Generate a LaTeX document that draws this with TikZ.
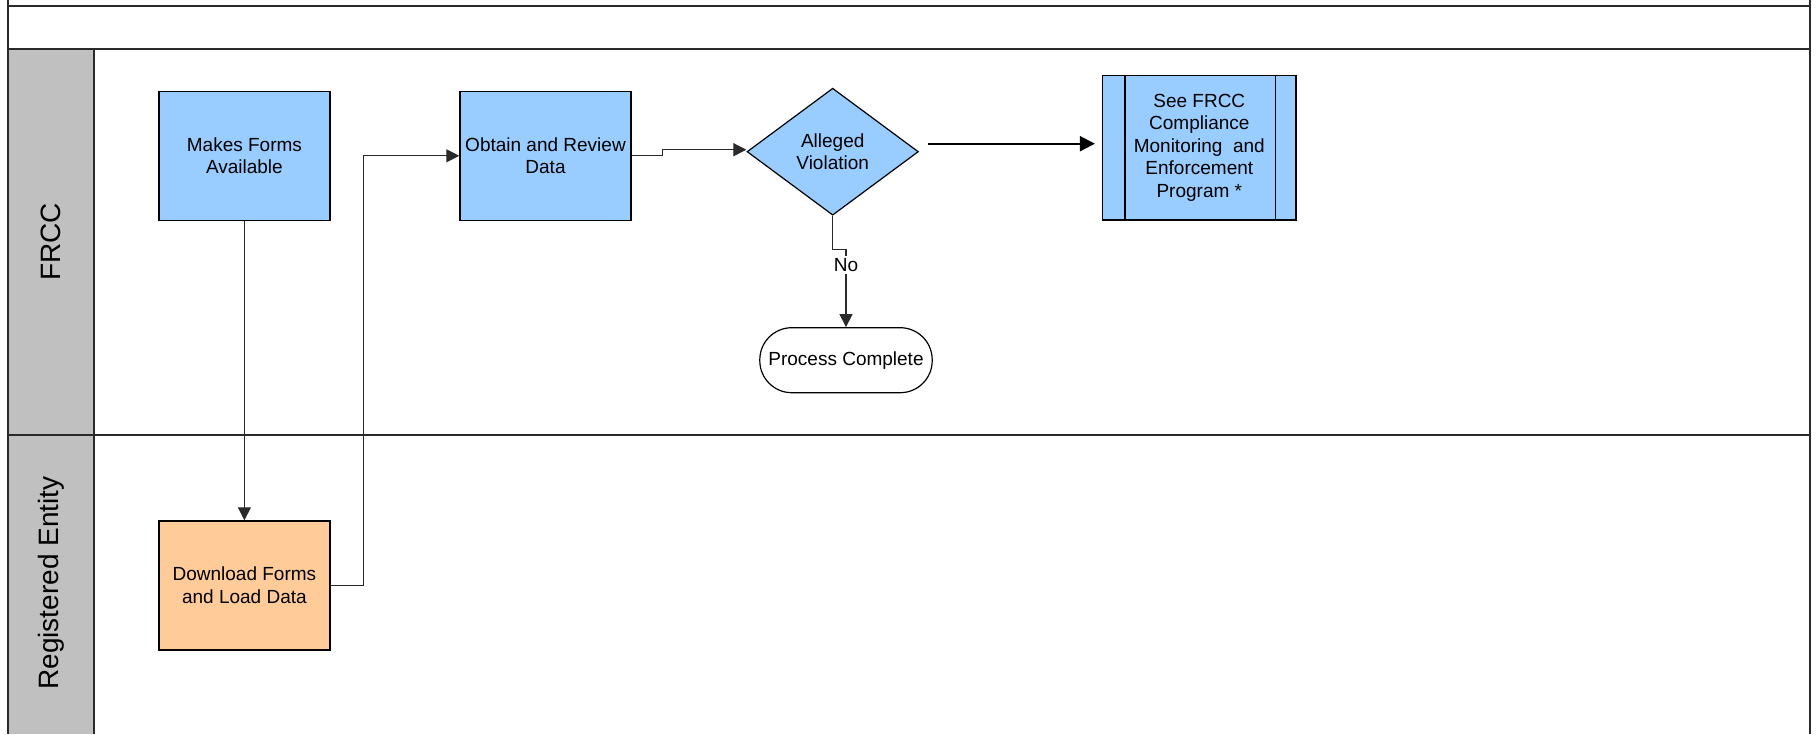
\documentclass[tikz,border=0pt]{standalone}
\usepackage{fontspec}
\setmainfont{Liberation Sans}
\usetikzlibrary{arrows.meta,shapes.geometric}

\definecolor{procblue}{HTML}{99CCFF}
\definecolor{entorange}{HTML}{FFCC99}
\definecolor{lanegray}{HTML}{C0C0C0}
\definecolor{edgegray}{HTML}{2A2A2A}

\begin{document}
\begin{tikzpicture}[x=0.5pt, y=-0.5pt, >={Triangle[length=6.5pt,width=6.5pt]},
  every node/.style={align=center, inner sep=0pt, font=\fontsize{9.5}{11.3}\selectfont},
  task/.style={draw=black, line width=0.7pt, fill=procblue, minimum width=85.5pt, minimum height=64.5pt},
  decision/.style={diamond, draw=black, line width=0.6pt, fill=procblue, aspect=1.35, minimum width=85.7pt, minimum height=63.5pt},
  terminal/.style={draw=black, line width=0.6pt, fill=white, rounded corners=16pt, minimum width=86.2pt, minimum height=32.5pt},
  lanelabel/.style={rotate=90, font=\fontsize{14}{16}\selectfont},
  lane/.style={draw=edgegray, line width=0.9pt},
  flow/.style={draw=edgegray, line width=0.55pt, ->}]
\useasboundingbox (0,0) rectangle (1816,734);

% swimlanes
\fill[lanegray] (8,49) rectangle (94,734);
\draw[lane] (8,0) -- (8,734);
\draw[lane, line width=1.1pt] (1810,0) -- (1810,734);
\draw[lane] (8,6) -- (1810,6);
\draw[lane] (8,49) -- (1810,49);
\draw[lane] (8,435) -- (1810,435);
\draw[lane] (94,49) -- (94,734);
\node[lanelabel] (frcc) at (51,242) {FRCC};
\node[lanelabel] (regent) at (51,583) {Registered Entity};

% steps
\node[task] (makes) at (244.4,155.8) {Makes Forms\\Available};
\node[task] (obtain) at (545.5,155.8) {Obtain and Review\\Data};
\node[decision] (alleged) at (832.7,151.7) {Alleged\\Violation};
\node[task, minimum width=96.7pt, minimum height=72.4pt] (seefrcc) at (1199.3,147.7) {See FRCC\\Compliance\\Monitoring\ \ and\\Enforcement\\Program *};
\draw[line width=0.7pt] ([xshift=11.5pt]seefrcc.north west) -- ([xshift=11.5pt]seefrcc.south west);
\draw[line width=0.7pt] ([xshift=-10.5pt]seefrcc.north east) -- ([xshift=-10.5pt]seefrcc.south east);
\node[terminal] (complete) at (846,360.2) {Process Complete};
\node[task, fill=entorange] (download) at (244.4,585.5) {Download Forms\\and Load Data};

% connectors
\draw[flow] (makes) -- (download);
\draw[flow] (download.east) -- ++(16.25pt,0) |- (obtain.west);
\draw[flow] (obtain.east) -- ++(15.5pt,0) |- ([yshift=1pt]alleged.west);
\draw[flow] (alleged.south) -- ++(0,-16.8pt) -| node[pos=0.6, fill=white, inner sep=1pt] {No} (complete.north);
\draw[->, line width=1pt, >={Triangle[length=7.5pt,width=7.5pt]}] ([xshift=4.6pt,yshift=4pt]alleged.east) -- ([xshift=-3.5pt,yshift=2pt]seefrcc.west);
\end{tikzpicture}
\end{document}
